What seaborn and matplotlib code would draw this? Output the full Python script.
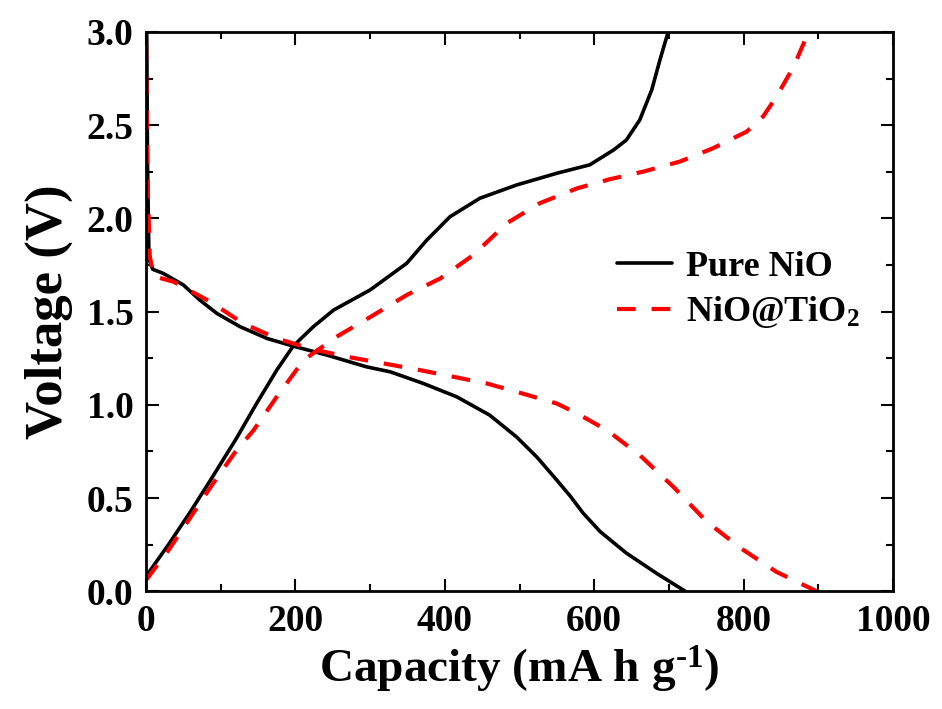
import numpy as np
import pandas as pd
import seaborn as sns
import matplotlib.pyplot as plt
from matplotlib.ticker import MultipleLocator

# Pure NiO - разряд
nio_dis_cap = [1, 2, 4, 9, 23, 50, 72, 95, 126, 162, 197, 242, 295, 327, 371, 416,
               460, 496, 523, 550, 568, 585, 608, 643, 684, 722]
nio_dis_v = [3.0, 2.3, 1.78, 1.727, 1.705, 1.643, 1.562, 1.49, 1.419, 1.356, 1.315, 1.267,
             1.204, 1.177, 1.115, 1.043, 0.945, 0.828, 0.721, 0.596, 0.51, 0.42, 0.32,
             0.205, 0.095, 0.0]
# Pure NiO - заряд
nio_ch_cap = [0, 30, 60, 90, 121, 148, 175, 197, 224, 251, 300, 349, 376, 407, 447, 496,
              550, 594, 626, 643, 661, 677, 688, 699]
nio_ch_v = [0.08, 0.25, 0.43, 0.62, 0.82, 1.007, 1.186, 1.315, 1.419, 1.508, 1.616, 1.759,
            1.884, 2.009, 2.108, 2.179, 2.242, 2.287, 2.367, 2.42, 2.528, 2.689, 2.85, 3.0]
# NiO@TiO2 - разряд
tio_dis_cap = [0, 2, 5, 10, 37, 86, 130, 175, 224, 269, 318, 362, 407, 456, 501, 550,
               577, 617, 661, 706, 751, 797, 844, 898]
tio_dis_v = [2.95, 2.2, 1.8, 1.69, 1.66, 1.553, 1.437, 1.356, 1.297, 1.258, 1.222, 1.19,
             1.154, 1.115, 1.064, 1.007, 0.954, 0.864, 0.73, 0.56, 0.372, 0.229, 0.104, 0.0]
# NiO@TiO2 - заряд
tio_ch_cap = [0, 30, 60, 90, 120, 144, 175, 211, 255, 304, 349, 394, 438, 483, 527, 577,
              621, 666, 715, 759, 804, 826, 844, 867, 887]
tio_ch_v = [0.06, 0.22, 0.40, 0.58, 0.75, 0.864, 1.043, 1.24, 1.365, 1.48, 1.589, 1.678,
            1.803, 1.974, 2.081, 2.161, 2.21, 2.251, 2.305, 2.376, 2.465, 2.546, 2.653,
            2.814, 3.0]

labels = ['Pure NiO', 'NiO@TiO$_2$']

frames = []
for lab, seg, cap, v in [(labels[0], 'd', nio_dis_cap, nio_dis_v),
                         (labels[0], 'c', nio_ch_cap, nio_ch_v),
                         (labels[1], 'd', tio_dis_cap, tio_dis_v),
                         (labels[1], 'c', tio_ch_cap, tio_ch_v)]:
    frames.append(pd.DataFrame({'cap': cap, 'v': v, 'sample': lab, 'seg': seg}))
df = pd.concat(frames, ignore_index=True)

sns.set_style('ticks')
plt.rcParams['font.family'] = ['Liberation Serif', 'DejaVu Serif']
plt.rcParams['font.weight'] = 'bold'
plt.rcParams['mathtext.fontset'] = 'custom'
plt.rcParams['mathtext.rm'] = 'Liberation Serif:bold'
plt.rcParams['mathtext.default'] = 'rm'
for k in ['text.color', 'axes.labelcolor', 'xtick.color', 'ytick.color', 'axes.edgecolor']:
    plt.rcParams[k] = 'black'

fig = plt.figure(figsize=(9.42, 7.09), dpi=100)
ax = fig.add_axes([0.155, 0.166, 0.793, 0.789])

sns.lineplot(data=df, x='cap', y='v', hue='sample', style='sample', units='seg',
             estimator=None, sort=False, palette={labels[0]: 'black', labels[1]: 'red'},
             dashes={labels[0]: '', labels[1]: (4.5, 3.8)}, linewidth=2.6, ax=ax)
for line in ax.lines:
    if line.get_color() == 'red':
        line.set_linewidth(3.0)
    line.set_solid_joinstyle('round')
    line.set_dash_joinstyle('round')

ax.set_xlim(0, 1000)
ax.set_ylim(0, 3.0)
ax.xaxis.set_major_locator(MultipleLocator(200))
ax.xaxis.set_minor_locator(MultipleLocator(100))
ax.yaxis.set_major_locator(MultipleLocator(0.5))
ax.yaxis.set_minor_locator(MultipleLocator(0.25))
ax.tick_params(which='both', direction='in', top=True, right=True, width=1.5)
ax.tick_params(which='major', length=9, labelsize=27, pad=9)
ax.tick_params(which='minor', length=5)
for s in ax.spines.values():
    s.set_linewidth(2)
ax.set_xlabel('Capacity (mA h g$^{\\text{-}1}$)', fontsize=34, fontweight='bold', labelpad=4)
ax.set_ylabel('Voltage (V)', fontsize=38, fontweight='bold', labelpad=10)

leg = ax.legend(loc='center left', bbox_to_anchor=(0.631, 0.538), frameon=False,
                fontsize=26, handlelength=1.5, handletextpad=0.4, labelspacing=0.3,
                borderpad=0, borderaxespad=0)
for line in leg.get_lines():
    line.set_linewidth(3.0 if line.get_color() == 'red' else 2.6)

fig.savefig('out.png', dpi=100)
